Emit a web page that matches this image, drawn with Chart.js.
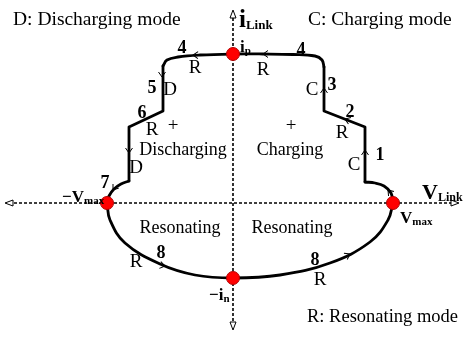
<!DOCTYPE html>
<html>
<head>
<meta charset="utf-8">
<script src="https://cdn.jsdelivr.net/npm/chart.js@4"></script>
<style>
  html, body { margin: 0; padding: 0; background: #fff; }
  canvas { display: block; }
</style>
</head>
<body>
<canvas id="plane" width="463" height="337"></canvas>
<script>
// Link voltage / link current trajectory of the converter (V_Link on x, i_Link on y)

// outline pieces, [V, i] in plot units around the origin
const arcVmaxUp    = [[160, 0], [158, 10], [151, 17], [142, 20], [132, 21]];
const chargeSteps  = [[132, 21], [132, 76], [91, 92], [91, 136]];
const topRun       = [[91, 136], [89, 143], [82, 147], [60, 148.5], [30, 149], [0, 149],
                      [-33, 148], [-55, 146], [-66, 143], [-70, 137]];
const dischSteps   = [[-70, 137], [-70, 92], [-104, 76], [-104, 22]];
const arcToNegVmax = [[-104, 22], [-112, 19], [-119, 14], [-124, 7], [-126, 0]];
const resonantArc  = [[-126, 0], [-123, -17], [-108, -40], [-73, -61], [-38, -72], [0, -75],
                      [47, -72], [97, -60], [137, -39], [155, -17], [160, 0]];

// operating points: Vmax, -Vmax, ip, -in
const keyPoints = [[160, 0], [-126, 0], [0, 149], [0, -75]];

// direction marks along the path: position and heading (deg, screen)
const arrowMarks = [
  [30, 149, 180], [-40, 148, 182], [-71, 126, 90], [-104, 50, 90], [-120, 13, 125],
  [-68, -63, 12], [117, -51, -28], [155, 13, -130], [132, 53, -90], [112, 84, -159], [91, 115, -90]
];

const toXY = pts => pts.map(p => ({ x: p[0], y: p[1] }));

const serif = '"Liberation Serif", "DejaVu Serif", serif';

// text placed on the plane: [text, subscript, x, y, font, subFont, align]
const titles = [
  ['D: Discharging mode', '', -220, 178, '19.5px', '', 'left'],
  ['C: Charging mode', '', 75, 178, '19.5px', '', 'left'],
  ['R: Resonating mode', '', 74, -119, '18.5px', '', 'left']
];
const axisNames = [
  ['i', 'Link', 6, 176, 'bold 25px', 'bold 13px', 'left'],
  ['V', 'Link', 189, 4, 'bold 22px', 'bold 12px', 'left'],
  ['i', 'p', 7, 151, 'bold 17px', 'bold 11px', 'left'],
  ['\u2212i', 'n', -24, -97, 'bold 17px', 'bold 11px', 'left'],
  ['V', 'max', 167, -20, 'bold 17px', 'bold 11px', 'left'],
  ['\u2212V', 'max', -171, 1, 'bold 17px', 'bold 11px', 'left']
];
const regionNames = [
  ['+', '', -60, 72, '19px', '', 'center'],
  ['Discharging', '', -50, 48, '18px', '', 'center'],
  ['+', '', 58, 72, '19px', '', 'center'],
  ['Charging', '', 57, 48, '18px', '', 'center'],
  ['Resonating', '', -53, -30, '18px', '', 'center'],
  ['Resonating', '', 59, -30, '18px', '', 'center']
];
const modeLetters = [
  ['R', '', -38, 130], ['D', '', -63, 108], ['R', '', -81, 68], ['D', '', -97, 30],
  ['R', '', 30, 128], ['C', '', 79, 108], ['R', '', 109, 65], ['C', '', 121, 33],
  ['R', '', -97, -64], ['R', '', 87, -82]
].map(t => t.concat(['19px', '', 'center']));
const stepNumbers = [
  ['4', '', -51, 150], ['5', '', -81, 110], ['6', '', -91, 85], ['7', '', -128, 15],
  ['4', '', 68, 148], ['3', '', 99, 113], ['2', '', 117, 86], ['1', '', 147, 43],
  ['8', '', -72, -55], ['8', '', 82, -62]
].map(t => t.concat(['bold 18px', '', 'center']));

const pathLine = (pts, tension) => ({
  type: 'line', data: toXY(pts), borderColor: '#000', borderWidth: 2.8, order: 1,
  pointRadius: 0, tension: tension, fill: false, borderCapStyle: 'round', borderJoinStyle: 'round'
});

// dashed axes with open arrowheads
const axesPlugin = {
  id: 'axesLines',
  beforeDatasetsDraw(chart) {
    const c = chart.ctx, sx = chart.scales.x, sy = chart.scales.y;
    const ox = sx.getPixelForValue(0), oy = sy.getPixelForValue(0);
    c.save();
    c.strokeStyle = '#000';
    c.lineWidth = 1.6;
    c.setLineDash([3, 2]);
    c.beginPath();
    c.moveTo(ox, sy.getPixelForValue(190)); c.lineTo(ox, sy.getPixelForValue(-122));
    c.moveTo(sx.getPixelForValue(-224), oy); c.lineTo(sx.getPixelForValue(222), oy);
    c.stroke();
    c.setLineDash([]);
    c.lineWidth = 1;
    const head = (x, y, a) => {
      c.save(); c.translate(x, y); c.rotate(a);
      c.beginPath(); c.moveTo(0, 0); c.lineTo(-8, -3); c.lineTo(-8, 3); c.closePath();
      c.fillStyle = '#fff'; c.fill(); c.stroke(); c.restore();
    };
    head(ox, sy.getPixelForValue(193), -Math.PI / 2);
    head(ox, sy.getPixelForValue(-127), Math.PI / 2);
    head(sx.getPixelForValue(-228), oy, Math.PI);
    head(sx.getPixelForValue(226), oy, 0);
    c.restore();
  }
};

// chevrons and labels on top of the path
const notesPlugin = {
  id: 'notes',
  afterDatasetsDraw(chart) {
    const c = chart.ctx, sx = chart.scales.x, sy = chart.scales.y;
    c.save();
    c.strokeStyle = '#000';
    c.lineWidth = 1;
    arrowMarks.forEach(([x, y, deg]) => {
      c.save();
      c.translate(sx.getPixelForValue(x), sy.getPixelForValue(y));
      c.rotate(deg * Math.PI / 180);
      c.beginPath(); c.moveTo(-5, -3.5); c.lineTo(0, 0); c.lineTo(-5, 3.5); c.stroke();
      c.restore();
    });
    c.fillStyle = '#000';
    c.textBaseline = 'alphabetic';
    const all = titles.concat(axisNames, regionNames, modeLetters, stepNumbers);
    all.forEach(([txt, sub, x, y, font, subFont, align]) => {
      const px = sx.getPixelForValue(x), py = sy.getPixelForValue(y);
      c.font = font + ' ' + serif;
      const w = c.measureText(txt).width;
      let subW = 0;
      if (sub) { c.font = subFont + ' ' + serif; subW = c.measureText(sub).width; }
      let left = px;
      if (align === 'center') left = px - (w + subW) / 2;
      c.font = font + ' ' + serif;
      c.textAlign = 'left';
      c.fillText(txt, left, py);
      if (sub) {
        c.font = subFont + ' ' + serif;
        c.fillText(sub, left + w, py + 2);
      }
    });
    c.restore();
  }
};

new Chart(document.getElementById('plane').getContext('2d'), {
  type: 'scatter',
  data: {
    datasets: [
      pathLine(arcVmaxUp, 0.4),
      pathLine(chargeSteps, 0),
      pathLine(topRun, 0.4),
      pathLine(dischSteps, 0),
      pathLine(arcToNegVmax, 0.4),
      pathLine(resonantArc, 0.4),
      {
        type: 'scatter', data: toXY(keyPoints), pointRadius: 6.5, order: 0,
        backgroundColor: '#f00', borderColor: '#b00000', borderWidth: 1
      }
    ]
  },
  options: {
    responsive: false,
    devicePixelRatio: 1,
    animation: false,
    layout: { padding: 0, autoPadding: false },
    plugins: { legend: { display: false }, tooltip: { enabled: false } },
    scales: {
      x: { type: 'linear', min: -233, max: 230, display: false },
      y: { type: 'linear', min: -134, max: 203, display: false }
    }
  },
  plugins: [axesPlugin, notesPlugin]
});
</script>
</body>
</html>
